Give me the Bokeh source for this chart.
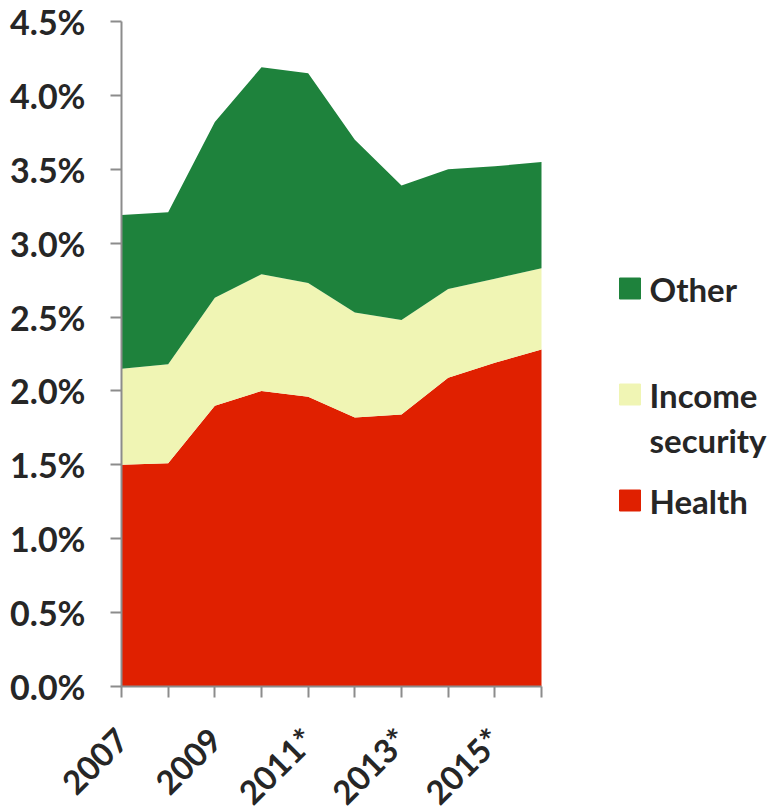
from math import pi
from bokeh.plotting import figure
from bokeh.models import ColumnDataSource, Range1d, FixedTicker, PrintfTickFormatter
from bokeh.layouts import row
from bokeh.core.properties import value
from bokeh.embed import file_html
from bokeh.resources import INLINE

# Data (% of GDP)
years = [2007, 2008, 2009, 2010, 2011, 2012, 2013, 2014, 2015, 2016]
x_labels = ["2007", "", "2009", "", "2011*", "", "2013*", "", "2015*", ""]
health = [1.50, 1.51, 1.90, 2.00, 1.96, 1.82, 1.84, 2.09, 2.19, 2.28]
income = [0.65, 0.67, 0.73, 0.79, 0.77, 0.71, 0.64, 0.60, 0.57, 0.55]
other = [1.04, 1.03, 1.19, 1.40, 1.42, 1.17, 0.91, 0.81, 0.76, 0.72]
y_ticks = [0.0, 0.5, 1.0, 1.5, 2.0, 2.5, 3.0, 3.5, 4.0, 4.5]
y_max = 4.5

series = ["health", "income", "other"]
colors = ["#E02000", "#F0F5B4", "#1E823C"]
legend_labels = ["Other", "Income\nsecurity", "Health"]
legend_colors = ["#1E823C", "#F0F5B4", "#E02000"]

FONT = "Lato"
TXT = "#262626"
AX = "#8c8c8c"

W_MAIN, W_LEG, H = 560, 213, 811
PAD_TOP, PAD_LEFT, PAD_RIGHT = 21, 121, 19     # pixels around the 0..4.5 / 2007..2016 box
PLOT_H, PLOT_W = 665, 420
px_y = PLOT_H / y_max
px_x = PLOT_W / (years[-1] - years[0])
x_lo = years[0] - PAD_LEFT / px_x
x_hi = years[-1] + PAD_RIGHT / px_x
y_lo = -(H - PAD_TOP - PLOT_H) / px_y
y_hi = y_max + PAD_TOP / px_y

src = ColumnDataSource(dict(year=years, health=health, income=income, other=other))

p = figure(width=W_MAIN, height=H, x_range=Range1d(x_lo, x_hi), y_range=Range1d(y_lo, y_hi),
           output_backend="svg", toolbar_location=None, min_border=0)
p.varea_stack(stackers=series, x="year", color=colors, source=src)

p.grid.visible = False
p.outline_line_color = None
p.background_fill_color = "white"
p.border_fill_color = "white"

for ax in (p.xaxis[0], p.yaxis[0]):
    ax.axis_line_color = AX
    ax.axis_line_width = 2
    ax.major_tick_line_color = AX
    ax.major_tick_line_width = 2
    ax.major_tick_in = 0
    ax.major_tick_out = 11
    ax.minor_tick_line_color = None
    ax.major_label_text_font = FONT
    ax.major_label_text_font_style = "bold"
    ax.major_label_text_color = TXT

ya = p.yaxis[0]
ya.fixed_location = years[0]
ya.ticker = FixedTicker(ticks=y_ticks)
ya.formatter = PrintfTickFormatter(format="%.1f%%")
ya.major_label_standoff = 25
ya.major_label_text_font_size = "34px"
ya.bounds = (0, y_max)

xa = p.xaxis[0]
xa.fixed_location = 0
xa.ticker = FixedTicker(ticks=years)
xa.major_label_overrides = {y: l for y, l in zip(years, x_labels)}
xa.major_label_orientation = pi / 4
xa.major_label_standoff = 36
xa.major_label_text_font_size = "33px"
xa.bounds = (years[0], years[-1])

# Legend panel (data coords = page pixels)
lg = figure(width=W_LEG, height=H, x_range=Range1d(W_MAIN, W_MAIN + W_LEG),
            y_range=Range1d(H, 0),
            output_backend="svg", toolbar_location=None, min_border=0)
lg.axis.visible = False
lg.grid.visible = False
lg.outline_line_color = None
lg.background_fill_color = "white"
lg.border_fill_color = "white"

sq_x, txt_x = 629.5, 649
entry_y = [288, 394, 500]
line_gap = 45
lg.rect(x=[sq_x] * 3, y=entry_y, width=21, height=21, width_units="screen",
        height_units="screen", color=legend_colors)
tx, ty, tt = [], [], []
for lab, yy in zip(legend_labels, entry_y):
    for i, part in enumerate(lab.split("\n")):
        tx.append(txt_x)
        ty.append(yy + i * line_gap)
        tt.append(part)
lg.text(x=tx, y=ty, text=tt, text_font=value(FONT), text_font_style="bold",
        text_font_size="33px", text_color=TXT, text_baseline="middle", text_align="left")

layout = row(p, lg)
open("out.html", "w").write(file_html(layout, INLINE))
